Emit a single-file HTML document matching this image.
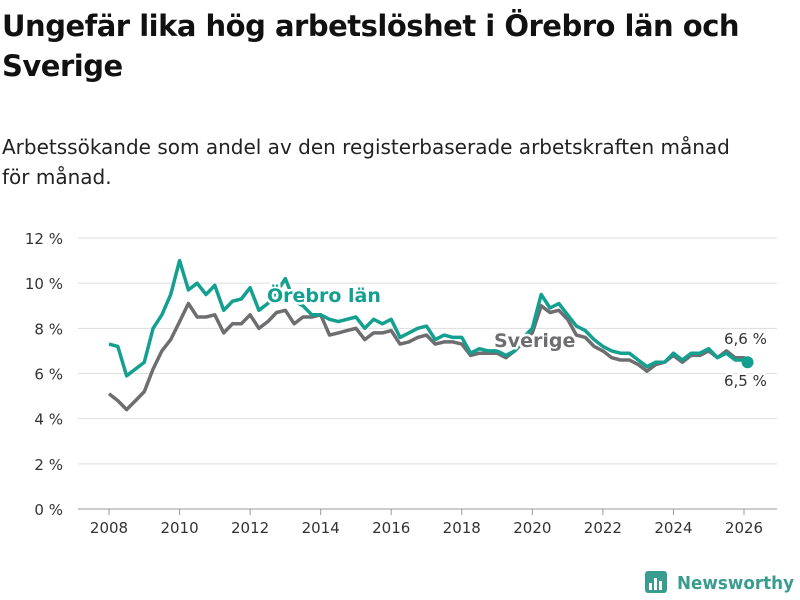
<!DOCTYPE html>
<html><head><meta charset="utf-8"><style>
body{margin:0;background:#fff;font-family:"Liberation Sans","DejaVu Sans",sans-serif;}
#wrap{position:relative;width:800px;height:600px;overflow:hidden}
h1{position:absolute;left:2px;top:6px;margin:0;font-size:29px;line-height:40px;font-weight:bold;color:#111;width:790px;font-family:"DejaVu Sans",sans-serif;letter-spacing:-0.5px}
.sub{position:absolute;left:2px;top:132px;font-size:20px;line-height:30px;color:#222;width:784px;font-family:"DejaVu Sans",sans-serif;letter-spacing:0px}
svg text{font-family:"DejaVu Sans",sans-serif}
</style></head><body><div id="wrap">
<h1>Ungefär lika hög arbetslöshet i Örebro län och Sverige</h1>
<div class="sub">Arbetssökande som andel av den registerbaserade arbetskraften månad<br>för månad.</div>
<svg id="c" width="800" height="600" style="position:absolute;left:0;top:0"></svg>
</div>
<script>
const years=[];for(let i=0;i<=72;i++)years.push(2008+i*0.25);years.push(2026.1);
const orebro=[7.3,7.2,5.9,6.2,6.5,8.0,8.6,9.5,11.0,9.7,10.0,9.5,9.9,8.8,9.2,9.3,9.8,8.8,9.1,9.6,10.2,9.2,9.0,8.6,8.6,8.4,8.3,8.4,8.5,8.0,8.4,8.2,8.4,7.6,7.8,8.0,8.1,7.5,7.7,7.6,7.6,6.9,7.1,7.0,7.0,6.8,7.0,7.6,8.0,9.5,8.9,9.1,8.6,8.1,7.9,7.5,7.2,7.0,6.9,6.9,6.6,6.3,6.5,6.5,6.9,6.6,6.9,6.9,7.1,6.7,6.9,6.6,6.6,6.5];
const sverige=[5.1,4.8,4.4,4.8,5.2,6.2,7.0,7.5,8.3,9.1,8.5,8.5,8.6,7.8,8.2,8.2,8.6,8.0,8.3,8.7,8.8,8.2,8.5,8.5,8.6,7.7,7.8,7.9,8.0,7.5,7.8,7.8,7.9,7.3,7.4,7.6,7.7,7.3,7.4,7.4,7.3,6.8,6.9,6.9,6.9,6.7,7.0,7.4,7.8,9.0,8.7,8.8,8.4,7.7,7.6,7.2,7.0,6.7,6.6,6.6,6.4,6.1,6.4,6.5,6.8,6.5,6.8,6.8,7.0,6.7,7.0,6.7,6.7,6.6];
const yTicks=[0,2,4,6,8,10,12];
const xTicks=[2008,2010,2012,2014,2016,2018,2020,2022,2024,2026];
const NS='http://www.w3.org/2000/svg',svg=document.getElementById('c');
const X=v=>109+(v-2008)*(744-109)/18, Y=v=>509-v*(509-238)/12;
function mk(t,a,p){const e=document.createElementNS(NS,t);for(const k in a)e.setAttribute(k,a[k]);(p||svg).appendChild(e);return e;}
yTicks.forEach(v=>{
 const l=mk('line',{x1:78,x2:777,y1:Y(v),y2:Y(v),stroke:v===0?'#bbb':'#ddd','stroke-width':v===0?1.5:1});
 
 
 const t=mk('text',{x:63,y:Y(v)+6,'text-anchor':'end','font-size':15,fill:'#333'});t.textContent=v+' %';
 
 
});
xTicks.forEach(v=>{
 const l=mk('line',{x1:X(v),x2:X(v),y1:509,y2:515,stroke:'#999'});
 
 
 const t=mk('text',{x:X(v),y:533,'text-anchor':'middle','font-size':15,fill:'#333'});t.textContent=v;
 
 
});
function line(d,col,name){const p=mk('path',{d:d.map((v,i)=>(i?'L':'M')+X(years[i]).toFixed(1)+','+Y(v).toFixed(1)).join(''),fill:'none',stroke:col,'stroke-width':3.5,'stroke-linejoin':'round'});
 
 }
line(sverige,'#6e6e70','sverige-line');
line(orebro,'#14a091','orebro-line');
const n=orebro.length-1;
const dot=mk('circle',{cx:X(years[n]),cy:Y(orebro[n]),r:6,fill:'#14a091'});


function lab(x,y,txt,col,size,w,name){const t=mk('text',{x:x,y:y,'font-size':size,fill:col,'font-weight':w,stroke:'#fff','stroke-width':5,'paint-order':'stroke','stroke-linejoin':'round'});t.textContent=txt;
 
 }
lab(267,302,'Örebro län','#14a091',19,'bold','orebro-label');
lab(494,347,'Sverige','#6e6e70',19,'bold','sverige-label');
lab(724,344,'6,6 %','#333',15,'normal','sverige-end-value');
lab(724,386,'6,5 %','#333',15,'normal','orebro-end-value');
const g=mk('g',{});


mk('rect',{x:645,y:571,width:22,height:22,rx:3,fill:'#3a9c8f'},g);
[[649,583,3,7],[654,578,3,12],[659,581,3,9]].forEach(r=>mk('rect',{x:r[0],y:r[1],width:r[2],height:r[3],fill:'#fff'},g));
const lt=mk('text',{x:677,y:589,'font-size':18,'font-weight':'bold',fill:'#3a9c8f',textLength:117,lengthAdjust:'spacingAndGlyphs'},g);lt.textContent='Newsworthy';
</script></body></html>
